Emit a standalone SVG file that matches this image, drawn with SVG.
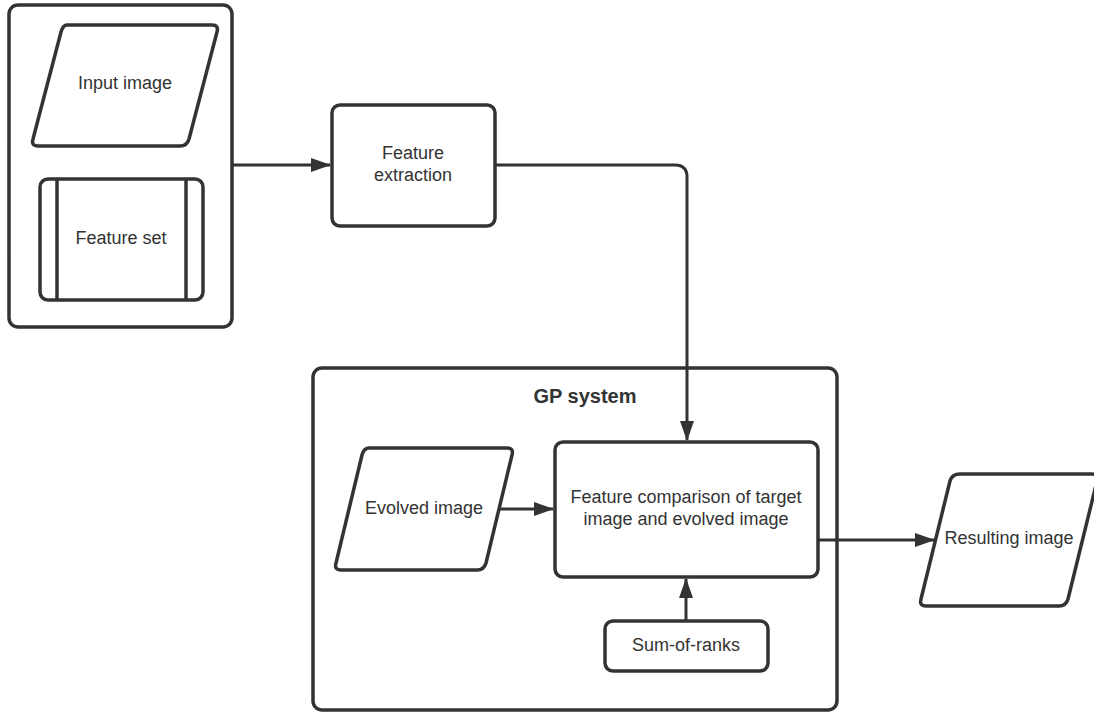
<svg xmlns="http://www.w3.org/2000/svg" width="1094" height="712" viewBox="0 0 1094 712">
<defs>
<marker id="ah" markerWidth="20" markerHeight="14" refX="19" refY="7" orient="auto" markerUnits="userSpaceOnUse">
<path d="M0,0 L20,7 L0,14 Z" fill="#333"/>
</marker>
<style>
.s{fill:#fff;stroke:#333;stroke-width:3.5;stroke-linejoin:round}
.t{font-family:"Liberation Sans",Arial,sans-serif;font-size:18px;fill:#333;text-anchor:middle}
.c{fill:none;stroke:#333;stroke-width:3}
</style>
</defs>
<rect width="1094" height="712" fill="#fff"/>
<g id="input-group">
<rect class="s" x="9" y="5" width="223" height="322" rx="9"/>
</g>
<g id="gp-system">
<rect class="s" x="313" y="368" width="524" height="342" rx="9"/>
<text class="t" x="585" y="403" style="font-weight:bold;font-size:20px">GP system</text>
</g>
<g id="input-image">
<path class="s" d="M67,25 L212,25 Q219,25 217,32 L189,139 Q187,146 180,146 L38,146 Q31,146 33,139 L61,32 Q63,25 67,25 Z"/>
<text class="t" x="125" y="89">Input image</text>
</g>
<g id="feature-set">
<rect class="s" x="40" y="179" width="163" height="121" rx="8"/>
<line x1="57" y1="179" x2="57" y2="300" stroke="#333" stroke-width="3.5"/>
<line x1="186" y1="179" x2="186" y2="300" stroke="#333" stroke-width="3.5"/>
<text class="t" x="121" y="244">Feature set</text>
</g>
<g id="feature-extraction">
<rect class="s" x="332" y="105" width="163" height="121" rx="8"/>
<text class="t" x="413" y="159">Feature</text>
<text class="t" x="413" y="181">extraction</text>
</g>
<g id="evolved-image">
<path class="s" d="M369,448 L507,448 Q514,448 512,455 L486,563 Q484,570 477,570 L341,570 Q334,570 336,563 L362,455 Q364,448 369,448 Z"/>
<text class="t" x="424" y="514">Evolved image</text>
</g>
<g id="feature-comparison">
<rect class="s" x="555" y="442" width="263" height="135" rx="8"/>
<text class="t" x="686" y="503">Feature comparison of target</text>
<text class="t" x="686" y="525">image and evolved image</text>
</g>
<g id="sum-of-ranks">
<rect class="s" x="605" y="621" width="163" height="50" rx="8"/>
<text class="t" x="686" y="651">Sum-of-ranks</text>
</g>
<g id="resulting-image">
<path class="s" d="M960,474 L1092,474 Q1099,474 1097,481 L1068,599 Q1066,606 1059,606 L926,606 Q919,606 921,599 L950,481 Q952,474 960,474 Z"/>
<text class="t" x="1009" y="544">Resulting image</text>
</g>
<g id="connectors">
<path class="c" d="M232,165 L330,165" marker-end="url(#ah)"/>
<path class="c" d="M495,165 L675,165 Q687,165 687,177 L687,440" marker-end="url(#ah)"/>
<path class="c" d="M500,509 L553,509" marker-end="url(#ah)"/>
<path class="c" d="M686,621 L686,579" marker-end="url(#ah)"/>
<path class="c" d="M818,540 L934,540" marker-end="url(#ah)"/>
</g>
</svg>
